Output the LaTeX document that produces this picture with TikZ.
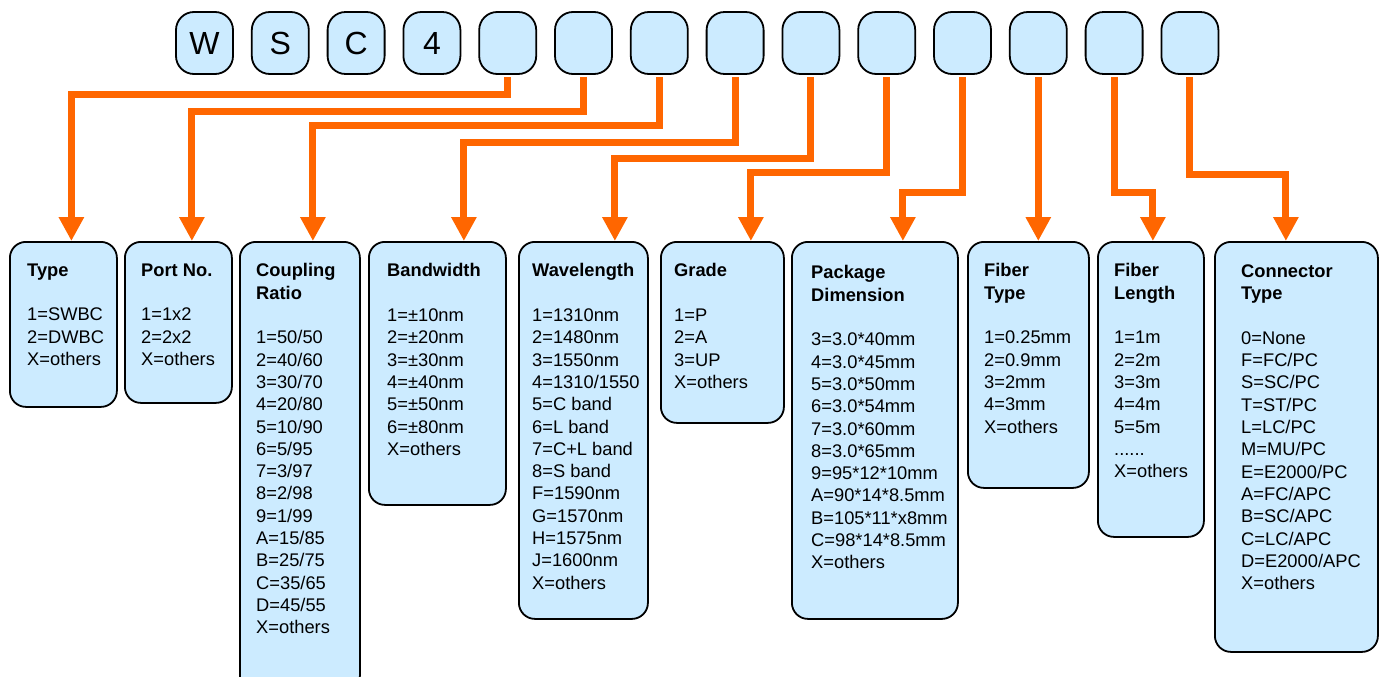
\documentclass[tikz,border=0pt]{standalone}
\usepackage{fontspec}
\setmainfont{Liberation Sans}
\usetikzlibrary{arrows.meta}
\definecolor{keyblue}{RGB}{204,235,255}
\definecolor{linkorange}{RGB}{255,102,0}

\begin{document}
\begin{tikzpicture}[
	x=1pt,y=-1pt,
	line cap=round,
	line join=round,
	key/.style={draw=black,fill=keyblue,line width=1.8pt,rounded corners=18pt,
		minimum width=57,minimum height=62,inner sep=0pt,font=\fontsize{32}{32}\selectfont},
	field/.style={draw=black,fill=keyblue,line width=1.8pt,rounded corners=16pt,
		anchor=north west,inner sep=0pt},
	entry/.style={anchor=north west,inner sep=0pt,align=left,
		font=\fontsize{18.3}{22.3}\selectfont},
	link/.style={draw=linkorange,line width=7pt,line cap=butt,line join=miter,
		-{Triangle[width=24pt,length=24pt]}}
	]
	\useasboundingbox (0,0) rectangle (1384,677);
	\foreach \l [count=\i] in {W,S,C,4,{},{},{},{},{},{},{},{},{},{}}
		\node[key] (c\i) at ({204.5+75.8*(\i-1)},43) {\l};

	\node[field,minimum width=107,minimum height=165] (type) at (9,241) {};
	\node[field,minimum width=107,minimum height=161] (port) at (124,241) {};
	\node[field,minimum width=120,minimum height=450] (ratio) at (239,241) {};
	\node[field,minimum width=137,minimum height=263] (bw) at (368,241) {};
	\node[field,minimum width=129,minimum height=377] (wl) at (518,241) {};
	\node[field,minimum width=123,minimum height=181] (grade) at (660,241) {};
	\node[field,minimum width=166,minimum height=377] (pkg) at (791,241) {};
	\node[field,minimum width=121,minimum height=246] (ftype) at (967,241) {};
	\node[field,minimum width=106,minimum height=295] (flen) at (1097,241) {};
	\node[field,minimum width=163,minimum height=410] (conn) at (1214,241) {};

	\node[entry] (type-t) at ([xshift=18,yshift=-22.5]type.north west)
		{\textbf{Type}\\[22.3pt]1=SWBC\\2=DWBC\\X=others};
	\node[entry] (port-t) at ([xshift=17,yshift=-22.5]port.north west)
		{\textbf{Port No.}\\[22.3pt]1=1x2\\2=2x2\\X=others};
	\node[entry] (ratio-t) at ([xshift=17,yshift=-22.5]ratio.north west)
		{\textbf{Coupling}\\\textbf{Ratio}\\[22.3pt]1=50/50\\2=40/60\\3=30/70\\4=20/80\\5=10/90\\6=5/95\\7=3/97\\8=2/98\\9=1/99\\A=15/85\\B=25/75\\C=35/65\\D=45/55\\X=others};
	\node[entry] (bw-t) at ([xshift=19,yshift=-22.5]bw.north west)
		{\textbf{Bandwidth}\\[22.3pt]1=±10nm\\2=±20nm\\3=±30nm\\4=±40nm\\5=±50nm\\6=±80nm\\X=others};
	\node[entry] (wl-t) at ([xshift=14,yshift=-22.5]wl.north west)
		{\textbf{Wavelength}\\[22.3pt]1=1310nm\\2=1480nm\\3=1550nm\\4=1310/1550\\5=C band\\6=L band\\7=C+L band\\8=S band\\F=1590nm\\G=1570nm\\H=1575nm\\J=1600nm\\X=others};
	\node[entry] (grade-t) at ([xshift=14,yshift=-22.5]grade.north west)
		{\textbf{Grade}\\[22.3pt]1=P\\2=A\\3=UP\\X=others};
	\node[entry] (pkg-t) at ([xshift=20,yshift=-24.5]pkg.north west)
		{\textbf{Package}\\\textbf{Dimension}\\[22.3pt]3=3.0*40mm\\4=3.0*45mm\\5=3.0*50mm\\6=3.0*54mm\\7=3.0*60mm\\8=3.0*65mm\\9=95*12*10mm\\A=90*14*8.5mm\\B=105*11*x8mm\\C=98*14*8.5mm\\X=others};
	\node[entry] (ftype-t) at ([xshift=17,yshift=-22.5]ftype.north west)
		{\textbf{Fiber}\\\textbf{Type}\\[22.3pt]1=0.25mm\\2=0.9mm\\3=2mm\\4=3mm\\X=others};
	\node[entry] (flen-t) at ([xshift=17,yshift=-22.5]flen.north west)
		{\textbf{Fiber}\\\textbf{Length}\\[22.3pt]1=1m\\2=2m\\3=3m\\4=4m\\5=5m\\......\\X=others};
	\node[entry] (conn-t) at ([xshift=27,yshift=-23.5]conn.north west)
		{\textbf{Connector}\\\textbf{Type}\\[22.3pt]0=None\\F=FC/PC\\S=SC/PC\\T=ST/PC\\L=LC/PC\\M=MU/PC\\E=E2000/PC\\A=FC/APC\\B=SC/APC\\C=LC/APC\\D=E2000/APC\\X=others};

	\begin{scope}[link]
		\draw ([yshift=-2]c5.south) -- ++(0,18) -| ([xshift=8]type.north);
		\draw ([yshift=-2]c6.south) -- ++(0,35) -| ([xshift=13.5]port.north);
		\draw ([yshift=-2]c7.south) -- ++(0,49) -| ([xshift=13]ratio.north);
		\draw ([yshift=-2]c8.south) -- ++(0,66) -| ([xshift=26.5]bw.north);
		\draw ([yshift=-2]c9.south) -- ++(0,82) -| ([xshift=31.5]wl.north);
		\draw ([yshift=-2]c10.south) -- ++(0,96) -| ([xshift=28.5]grade.north);
		\draw ([yshift=-2]c11.south) -- ++(0,116) -| ([xshift=28]pkg.north);
		\draw ([yshift=-2]c12.south) -- (c12.south |- ftype.north);
		\draw ([yshift=-2]c13.south) -- ++(0,116) -| ([xshift=2]flen.north);
		\draw ([yshift=-2]c14.south) -- ++(0,98) -| ([xshift=-10.5]conn.north);
	\end{scope}
\end{tikzpicture}
\end{document}
